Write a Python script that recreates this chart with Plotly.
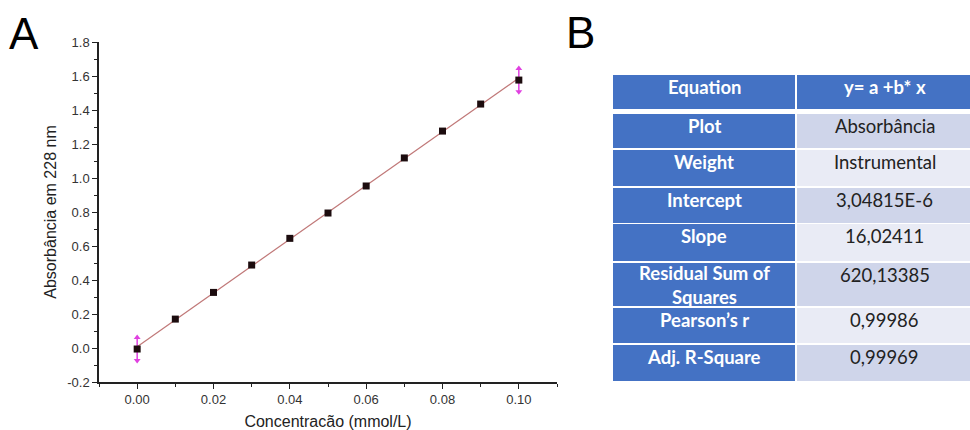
import numpy as np
import plotly.graph_objects as go

# ---------------- data ----------------
conc = [0.00, 0.01, 0.02, 0.03, 0.04, 0.05, 0.06, 0.07, 0.08, 0.09, 0.10]
absorb = [-0.006, 0.170, 0.327, 0.488, 0.645, 0.794, 0.953, 1.118, 1.276, 1.435, 1.576]
arrow_idx = [0, 10]          # points with error arrows
arrow_err = 0.068

x_ticks = [0.00, 0.02, 0.04, 0.06, 0.08, 0.10]
x_ticklabels = ["0.00", "0.02", "0.04", "0.06", "0.08", "0.10"]
y_ticks = [-0.2, 0.0, 0.2, 0.4, 0.6, 0.8, 1.0, 1.2, 1.4, 1.6, 1.8]
y_ticklabels = ["-0.2", "0.0", "0.2", "0.4", "0.6", "0.8", "1.0", "1.2", "1.4", "1.6", "1.8"]

table_params = ["Equation", "Plot", "Weight", "Intercept", "Slope",
                "Residual Sum of<br>Squares", "Pearson’s r", "Adj. R-Square"]
table_values = ["y= a +b* x", "Absorbância", "Instrumental", "3,04815E-6",
                "16,02411", "620,13385", "0,99986", "0,99969"]

# ---------------- helpers (pixel -> paper) ----------------
W, H = 970, 430
def px(x):
    return x / W
def py(y):
    return 1 - y / H

fig = go.Figure()

# fit line
b, a = np.polyfit(conc, absorb, 1)
xf = [conc[0], conc[-1]]
yf = [a + b * v for v in xf]
fig.add_trace(go.Scatter(x=xf, y=yf, mode="lines",
                         line=dict(color="#c07878", width=1.2),
                         hoverinfo="skip", showlegend=False))

# error arrows
ex, ey = [], []
tx_up, ty_up, tx_dn, ty_dn = [], [], [], []
for i in arrow_idx:
    ex += [conc[i], conc[i], None]
    ey += [absorb[i] - arrow_err, absorb[i] + arrow_err, None]
    tx_up.append(conc[i]); ty_up.append(absorb[i] + arrow_err)
    tx_dn.append(conc[i]); ty_dn.append(absorb[i] - arrow_err)
fig.add_trace(go.Scatter(x=ex, y=ey, mode="lines",
                         line=dict(color="#e040e0", width=1.5),
                         showlegend=False, hoverinfo="skip"))
fig.add_trace(go.Scatter(x=tx_up, y=ty_up, mode="markers",
                         marker=dict(symbol="triangle-up", size=6, color="#e040e0"),
                         showlegend=False, hoverinfo="skip"))
fig.add_trace(go.Scatter(x=tx_dn, y=ty_dn, mode="markers",
                         marker=dict(symbol="triangle-down", size=6, color="#e040e0"),
                         showlegend=False, hoverinfo="skip"))

# data points
fig.add_trace(go.Scatter(x=conc, y=absorb, mode="markers",
                         marker=dict(symbol="square", size=7, color="#1c0c0e",
                                     line=dict(width=0)),
                         showlegend=False))

axis_font = dict(family="Liberation Sans, Arial, sans-serif", size=13, color="#333")
title_font = dict(family="Liberation Sans, Arial, sans-serif", size=16, color="#222")
fig.update_layout(
    width=W, height=H,
    margin=dict(l=0, r=0, t=0, b=0),
    paper_bgcolor="white", plot_bgcolor="white",
    xaxis=dict(domain=[px(99), px(557)], range=[-0.01, 0.11],
               tickvals=x_ticks, ticktext=x_ticklabels,
               showgrid=False, zeroline=False, showline=True,
               linecolor="#222", linewidth=1.5,
               ticks="outside", ticklen=5, tickwidth=1.2, tickcolor="#222",
               minor=dict(dtick=0.01, tick0=0, ticks="outside", ticklen=3,
                          tickwidth=1.2, tickcolor="#222", showgrid=False),
               tickfont=axis_font, automargin=False,
               title=dict(text="Concentracão (mmol/L)", font=title_font, standoff=9)),
    yaxis=dict(domain=[py(382), py(42)], range=[-0.2, 1.8],
               tickvals=y_ticks, ticktext=y_ticklabels,
               showgrid=False, zeroline=False, showline=True,
               linecolor="#222", linewidth=1.5,
               ticks="outside", ticklen=5, tickwidth=1.2, tickcolor="#222",
               minor=dict(dtick=0.1, tick0=0, ticks="outside", ticklen=3,
                          tickwidth=1.2, tickcolor="#222", showgrid=False),
               tickfont=axis_font, automargin=False,
               title=dict(text="Absorbância em 228 nm", font=title_font, standoff=7)),
)

# panel letters
for letter, cx, cy in [("A", 24, 33), ("B", 580, 32)]:
    fig.add_annotation(x=px(cx), y=py(cy), xref="paper", yref="paper",
                       text=letter, showarrow=False, xanchor="center", yanchor="middle",
                       font=dict(family="Liberation Sans, Arial, sans-serif", size=44,
                                 color="black"))

# table
row_tops = [75, 114, 150, 188, 224, 263, 308, 345]
row_bots = [109, 148, 186, 223, 261, 306, 343, 381]
col_l = (613, 795)
col_r = (797, 972)
dark = "#4472c4"
band1 = "#cfd5ea"
band2 = "#e9ebf5"
tfont = "Lato, Open Sans, sans-serif"
for i, (p, v) in enumerate(zip(table_params, table_values)):
    t, bt = row_tops[i], row_bots[i]
    fig.add_shape(type="rect", xref="paper", yref="paper",
                  x0=px(col_l[0]), x1=px(col_l[1]), y0=py(bt), y1=py(t),
                  fillcolor=dark, line=dict(width=0), layer="below")
    if i == 0:
        rc = dark
    else:
        rc = band1 if i % 2 == 1 else band2
    fig.add_shape(type="rect", xref="paper", yref="paper",
                  x0=px(col_r[0]), x1=px(col_r[1]), y0=py(bt), y1=py(t),
                  fillcolor=rc, line=dict(width=0), layer="below")
    nlines = p.count("<br>") + 1
    cyl = t + 12 if nlines == 1 else t + 22
    cyr = t + 12
    fig.add_annotation(x=px((col_l[0] + col_l[1]) / 2), y=py(cyl),
                       xref="paper", yref="paper", text="<b>%s</b>" % p,
                       showarrow=False, xanchor="center", yanchor="middle",
                       font=dict(family=tfont, size=18.5, color="white"))
    vtxt = "<b>%s</b>" % v if i == 0 else v
    fig.add_annotation(x=px((col_r[0] + col_r[1]) / 2), y=py(cyr),
                       xref="paper", yref="paper", text=vtxt,
                       showarrow=False, xanchor="center", yanchor="middle",
                       font=dict(family=tfont, size=18.5,
                                 color="white" if i == 0 else "#222"))

fig.write_html("out.html")
